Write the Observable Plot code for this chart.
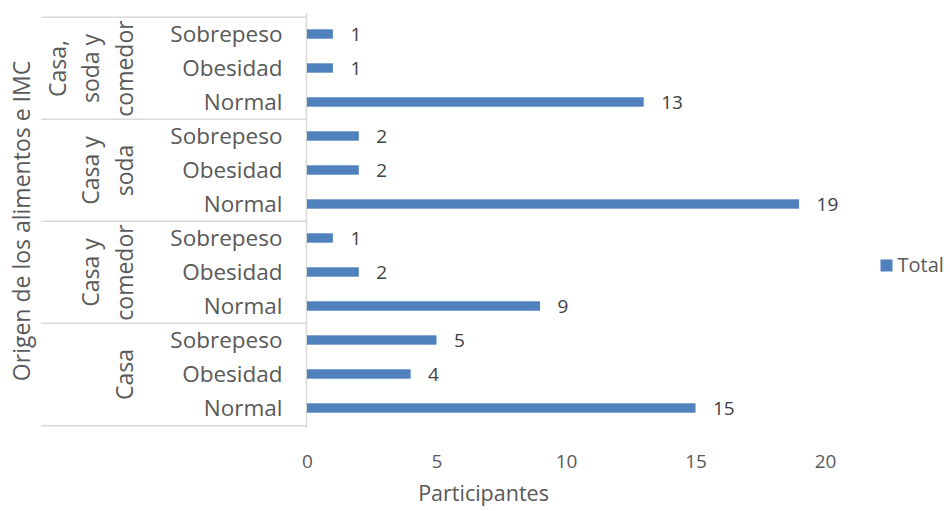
<!DOCTYPE html>
<html><head><meta charset="utf-8">
<script src="https://cdn.jsdelivr.net/npm/d3@7"></script>
<script src="https://cdn.jsdelivr.net/npm/@observablehq/plot@0.6"></script>
<style>body{margin:0;background:#fff}</style>
</head><body><div id="chart"></div>
<script>
const groups = ["Casa, soda y comedor", "Casa y soda", "Casa y comedor", "Casa"];
const groupLines = ["Casa,\nsoda y\ncomedor", "Casa y\nsoda", "Casa y\ncomedor", "Casa"];
const levels = ["Sobrepeso", "Obesidad", "Normal"];
const values = [[1, 1, 13], [2, 2, 19], [1, 2, 9], [5, 4, 15]];
const xTicks = [0, 5, 10, 15, 20];
const seriesName = "Total";
const yTitle = "Origen de los alimentos e IMC";
const xTitle = "Participantes";

const barColor = "#4F81BD";
const lineColor = "#D9D9D9";
const textColor = "#595959";

const rows = [];
groups.forEach((g, gi) => levels.forEach((l, li) => rows.push({key: g + "|" + l, group: g, level: l, value: values[gi][li]})));
const keys = rows.map(d => d.key);
const groupInfo = groups.map((g, gi) => ({group: g, lines: groupLines[gi], top: g + "|" + levels[0], mid: g + "|" + levels[1], bottom: g + "|" + levels[2]}));

const width = 950, height = 511, mt = 13, mb = 83, ml = 307, mr = 125;
const bw = (height - mt - mb) / keys.length;

const chart = Plot.plot({
  width, height,
  marginTop: mt, marginBottom: mb, marginLeft: ml, marginRight: mr,
  style: {fontFamily: "Open Sans", fontSize: "19px", color: textColor, background: "#fff"},
  x: {domain: [0, 20], ticks: xTicks, tickSize: 0, tickPadding: 26, label: null},
  y: {domain: keys, padding: 0, axis: null},
  marks: [
    Plot.ruleY(groupInfo, {y: "top", dy: -bw / 2, insetLeft: -266, insetRight: 519, stroke: lineColor, strokeWidth: 1.5}),
    Plot.ruleY(groupInfo.slice(-1), {y: "bottom", dy: bw / 2, insetLeft: -266, insetRight: 519, stroke: lineColor, strokeWidth: 1.5}),
    Plot.ruleX([0], {stroke: lineColor, strokeWidth: 1.5, dx: -1}),
    Plot.barX(rows, {x: "value", y: "key", fill: barColor, insetTop: 12.3, insetBottom: 12.3}),
    Plot.text(rows, {x: "value", y: "key", text: "value", textAnchor: "start", dx: 17, fontSize: 19, fill: "#404040"}),
    Plot.text(rows, {y: "key", text: "level", frameAnchor: "left", textAnchor: "end", dx: -25, fontSize: 22.5, fill: textColor}),
    Plot.text(groupInfo, {y: "mid", text: "lines", frameAnchor: "left", dx: -175, rotate: -90, textAnchor: "middle", lineAnchor: "bottom", lineHeight: 1.45, fontSize: 23, fill: textColor}),
    Plot.text([yTitle], {frameAnchor: "left", dx: -285, rotate: -90, textAnchor: "middle", fontSize: 23, fill: textColor}),
    Plot.text([xTitle], {frameAnchor: "bottom", dx: -83, dy: 72, textAnchor: "middle", fontSize: 21.5, fill: textColor}),
    Plot.dot([seriesName], {frameAnchor: "right", dx: 61, dy: 44.5, symbol: "square", r: 6.77, fill: barColor}),
    Plot.text([seriesName], {frameAnchor: "right", dx: 72, dy: 44.5, textAnchor: "start", fontSize: 20, fill: textColor})
  ]
});
document.getElementById("chart").appendChild(chart);
</script>
</body></html>
